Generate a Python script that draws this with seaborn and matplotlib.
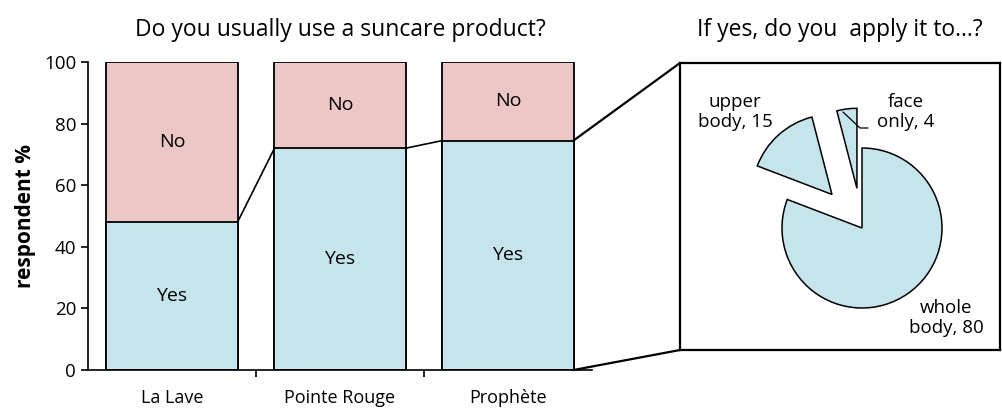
import matplotlib
matplotlib.use("Agg")
import matplotlib.pyplot as plt
import seaborn as sns
import pandas as pd
from matplotlib.patches import ConnectionPatch

# Data
sites = ["La Lave", "Pointe Rouge", "Prophète"]
yes_pct = [48, 72, 74.5]
total_pct = [100, 100, 100]
parts = ["whole\nbody, 80", "upper\nbody, 15", "face\nonly, 4"]
part_counts = [80, 15, 4]

blue = "#C5E4EC"
pink = "#EDC6C6"

sns.set_style("ticks")
plt.rcParams["font.family"] = ["Open Sans", "DejaVu Sans"]
plt.rcParams.update({"text.color": "black", "axes.labelcolor": "black",
                     "xtick.color": "black", "ytick.color": "black"})

fig = plt.figure(figsize=(10.02, 4.08), dpi=100)
ax = fig.add_axes([88 / 1002, 38 / 408, 504 / 1002, 308 / 408])

df = pd.DataFrame({"site": sites, "yes": yes_pct, "total": total_pct})
bw = 0.78
sns.barplot(data=df, x="site", y="total", color=pink, saturation=1, width=bw,
            edgecolor="black", linewidth=1.3, ax=ax)
sns.barplot(data=df, x="site", y="yes", color=blue, saturation=1, width=bw,
            edgecolor="black", linewidth=1.3, ax=ax)

# lines linking the yes levels
for i in range(len(sites) - 1):
    ax.plot([i + bw / 2, i + 1 - bw / 2], [yes_pct[i], yes_pct[i + 1]],
            color="black", lw=1.2)

for i, y in enumerate(yes_pct):
    ax.text(i, y / 2, "Yes", ha="center", va="center", fontsize=14)
    ax.text(i, (y + 100) / 2, "No", ha="center", va="center", fontsize=14)

ax.set_xlim(-0.5, 2.5)
ax.set_ylim(0, 100)
ax.set_yticks(range(0, 101, 20))
ax.set_xticks([0.5, 1.5])
ax.set_xticklabels([])
ax.set_xticks(range(3), minor=True)
ax.set_xticklabels(sites, minor=True, fontsize=13)
ax.tick_params(axis="x", which="minor", length=0, pad=14)
ax.tick_params(axis="x", which="major", length=5, width=1.2)
ax.tick_params(axis="y", labelsize=13.5, length=5, width=1.2)
ax.set_xlabel("")
ax.set_ylabel("respondent %", fontsize=15, fontweight="bold", labelpad=6)
sns.despine(ax=ax)
ax.spines["left"].set_linewidth(1.2)
ax.spines["bottom"].set_linewidth(1.2)
ax.spines["left"].set_color("black")
ax.spines["bottom"].set_color("black")
ax.set_title("Do you usually use a suncare product?", fontsize=16.5, pad=19)

# pie panel
pax = fig.add_axes([680 / 1002, 58 / 408, 320 / 1002, 287 / 408])
pax.pie(part_counts, startangle=90, counterclock=False, colors=[blue] * 3,
        explode=[0, 45, 40], center=(862, 180), radius=80, frame=True,
        wedgeprops=dict(edgecolor="black", linewidth=1.1))
pax.set_xlim(680, 1000)
pax.set_ylim(58, 345)
pax.set_xticks([])
pax.set_yticks([])
for s in pax.spines.values():
    s.set_linewidth(1.6)
    s.set_color("black")
pax.text(735, 296, parts[1], ha="center", va="center", fontsize=13.5, linespacing=1.15)
pax.text(906, 296, parts[2], ha="center", va="center", fontsize=13.5, linespacing=1.15)
pax.text(946, 90, parts[0], ha="center", va="center", fontsize=13.5, linespacing=1.15)
pax.plot([843, 860, 868], [296, 280, 280], color="black", lw=0.9)
fig.text(840 / 1002, 1 - 30 / 408, "If yes, do you  apply it to…?",
         ha="center", va="center", fontsize=16.5)

# zoom connectors
for yb, yp in [(yes_pct[2], 1), (0, 0)]:
    con = ConnectionPatch(xyA=(2 + bw / 2, yb), coordsA=ax.transData,
                          xyB=(0, yp), coordsB=pax.transAxes,
                          color="black", lw=1.6)
    fig.add_artist(con)

fig.savefig("out.png", dpi=100)
